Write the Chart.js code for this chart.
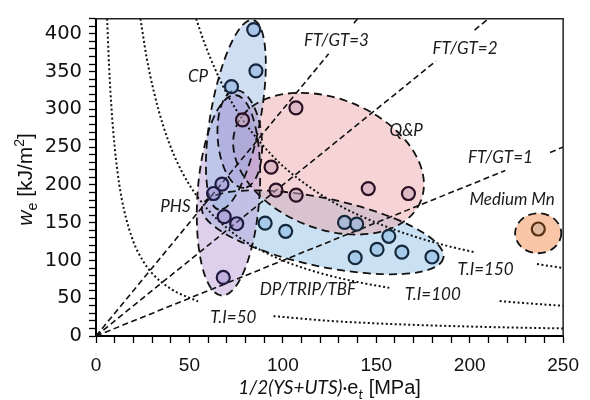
<!DOCTYPE html>
<html>
<head>
<meta charset="utf-8">
<script src="https://cdn.jsdelivr.net/npm/chart.js@4.4.0/dist/chart.umd.min.js"></script>
<style>
  html, body { margin: 0; padding: 0; background: #fff; }
  #wrap { width: 590px; height: 400px; }
</style>
</head>
<body>
<div id="wrap"><canvas id="chart" width="590" height="400"></canvas></div>
<script>
// steel grades, x = 1/2(YS+UTS)*et [MPa], y = we [kJ/m2]
const cpX = [84.4, 85.6, 72.5];
const cpY = [405.6, 351, 330];
const qpX = [78.4, 107, 93.7, 96.3, 107.1, 145.7, 167.2];
const qpY = [286, 302, 223.5, 193, 186.5, 195.2, 188.6];
const phsX = [67.4, 62.9, 68.6, 75.3, 68.1];
const phsY = [201, 188.6, 158, 148.6, 77.5];
const dpX = [90.5, 101.5, 133, 139.5, 156.7, 150.4, 163.7, 138.7, 179.8];
const dpY = [149.4, 138.6, 150.3, 148.1, 132, 114.6, 111, 103.7, 104.6];
const mnX = [236.7];
const mnY = [141.6];

// FT/GT reference lines (null = gap for the label)
const ft3X = [0, 124.5, null, 138, 140];
const ft3Y = [0, 373.5, null, 414, 420];
const ft2X = [0, 182, null, 202.6, 210];
const ft2Y = [0, 364, null, 405, 420];
const ft1X = [0, 219, null, 243, 250];
const ft1Y = [0, 219, null, 243, 250];

// T.I iso-lines
const ti50X = [5.95, 7, 8.5, 10, 12.5, 15, 20, 25, 30, 40, 54.6, null, 95, 125, 150, 175, 200, 225, 250];
const ti50Y = [420, 357, 294, 250, 200, 167, 125, 100, 83, 62.5, 45.8, null, 26.3, 20, 16.7, 14.3, 12.5, 11.1, 10];
const ti100X = [23.8, 27, 31, 36, 42, 50, 60, 70, 80, 100, 120, 140, 157, null, 216, 233, 250];
const ti100Y = [420, 370, 323, 278, 238, 200, 167, 143, 125, 100, 83.3, 71.4, 63.7, null, 46.3, 42.9, 40];
const ti150X = [53.6, 58, 64, 70, 78, 88, 100, 115, 130, 150, 170, 190, 202.6, null, 236, 243, 250];
const ti150Y = [420, 388, 352, 321, 288, 256, 225, 196, 173, 150, 132, 118, 111, null, 95.3, 92.6, 90];

const xTicks = [0, 50, 100, 150, 200, 250];
const yTicks = [0, 50, 100, 150, 200, 250, 300, 350, 400];

// group outlines: ends of the long axis (data units) + half width (px)
const regions = [
  { p1: [56.7, 171.2], p2: [185.9, 103.3], half: 34, fill: 'rgba(150,195,232,0.5)' },  // DP/TRIP/TBF
  { p1: [75.1, 277.6], p2: [173.8, 178.6], half: 65, fill: 'rgba(236,160,165,0.45)' }, // Q&P
  { p1: [74.6, 319], p2: [67.2, 53.6], half: 31, fill: 'rgba(190,160,215,0.5)' },      // PHS
  { p1: [84.0, 418.3], p2: [65.7, 167.3], half: 25, fill: 'rgba(160,190,232,0.5)' },   // CP
  { p1: [74.6, 325.5], p2: [79.3, 196], half: 22, fill: 'rgba(140,120,200,0.25)' },    // inner
  { p1: [224.3, 136], p2: [249, 136], half: 20, fill: 'rgba(245,160,110,0.6)' }        // Medium Mn
];

const notes = [
  { t: 'CP', x: 54.6, y: 344 },
  { t: 'FT/GT=3', x: 128.7, y: 391 },
  { t: 'FT/GT=2', x: 197.5, y: 380 },
  { t: 'Q&P', x: 166, y: 271.9 },
  { t: 'FT/GT=1', x: 216.4, y: 236.6 },
  { t: 'Medium Mn', x: 222.7, y: 180.4 },
  { t: 'PHS', x: 42.5, y: 171 },
  { t: 'DP/TRIP/TBF', x: 113.4, y: 61 },
  { t: 'T.I=150', x: 208.5, y: 87.6 },
  { t: 'T.I=100', x: 180.2, y: 55 },
  { t: 'T.I=50', x: 73.5, y: 25 }
];

function pts(xs, ys) {
  return xs.map((x, i) => ({ x: x, y: ys[i] }));
}

function dots(xs, ys, fill, edge) {
  return {
    type: 'scatter', data: pts(xs, ys), order: 0,
    pointRadius: 6.5, pointHoverRadius: 6.5, pointBorderWidth: 2.2,
    pointBackgroundColor: fill, pointBorderColor: edge
  };
}

function guide(xs, ys, dash, width) {
  return {
    type: 'line', data: pts(xs, ys), order: 1,
    borderColor: '#111', borderWidth: width, borderDash: dash,
    pointRadius: 0, fill: false, spanGaps: false,
    cubicInterpolationMode: 'monotone'
  };
}

const regionPlugin = {
  id: 'regions',
  beforeDatasetsDraw(chart) {
    const ctx = chart.ctx, xs = chart.scales.x, ys = chart.scales.y;
    const shapes = regions.map(r => {
      const x1 = xs.getPixelForValue(r.p1[0]), y1 = ys.getPixelForValue(r.p1[1]);
      const x2 = xs.getPixelForValue(r.p2[0]), y2 = ys.getPixelForValue(r.p2[1]);
      return {
        cx: (x1 + x2) / 2, cy: (y1 + y2) / 2,
        a: Math.hypot(x2 - x1, y2 - y1) / 2,
        rot: Math.atan2(y2 - y1, x2 - x1), b: r.half, fill: r.fill
      };
    });
    ctx.save();
    shapes.forEach(s => {
      ctx.beginPath();
      ctx.ellipse(s.cx, s.cy, s.a, s.b, s.rot, 0, Math.PI * 2);
      ctx.fillStyle = s.fill;
      ctx.fill();
    });
    ctx.setLineDash([8, 5]);
    ctx.lineWidth = 1.8;
    ctx.strokeStyle = '#111';
    shapes.forEach(s => {
      ctx.beginPath();
      ctx.ellipse(s.cx, s.cy, s.a, s.b, s.rot, 0, Math.PI * 2);
      ctx.stroke();
    });
    ctx.restore();
  },
  afterDatasetsDraw(chart) {
    const ctx = chart.ctx, xs = chart.scales.x, ys = chart.scales.y;
    ctx.save();
    ctx.font = 'italic 17px Lato';
    ctx.fillStyle = '#1a1a1a';
    ctx.textAlign = 'center';
    ctx.textBaseline = 'middle';
    notes.forEach(n => ctx.fillText(n.t, xs.getPixelForValue(n.x), ys.getPixelForValue(n.y)));
    ctx.restore();
  }
};

// frame on top/right and the two axis titles
const framePlugin = {
  id: 'frame',
  afterDraw(chart) {
    const ctx = chart.ctx, a = chart.chartArea;
    ctx.save();
    ctx.strokeStyle = '#222';
    ctx.lineWidth = 1.5;
    ctx.beginPath();
    ctx.moveTo(a.left, a.top);
    ctx.lineTo(a.right, a.top);
    ctx.lineTo(a.right, a.bottom);
    ctx.stroke();

    ctx.fillStyle = '#111';
    ctx.textBaseline = 'alphabetic';
    // x title
    const xp = [
      { t: '1/2(YS+UTS)·', f: 'italic 19px Lato', dy: 0 },
      { t: 'e', f: '20px "Liberation Sans"', dy: 0 },
      { t: 't', f: 'italic 13px Lato', dy: 5 },
      { t: ' [MPa]', f: '20px "Liberation Sans"', dy: 0 }
    ];
    drawRich(ctx, xp, (a.left + a.right) / 2, 394);
    // y title
    ctx.translate(32, (a.top + a.bottom) / 2 + 2);
    ctx.rotate(-Math.PI / 2);
    const yp = [
      { t: 'w', f: 'italic 21px "Liberation Sans"', dy: 0 },
      { t: 'e', f: '14px "Liberation Sans"', dy: 5 },
      { t: ' [kJ/m', f: '21px "Liberation Sans"', dy: 0 },
      { t: '2', f: '14px "Liberation Sans"', dy: -8 },
      { t: ']', f: '21px "Liberation Sans"', dy: 0 }
    ];
    drawRich(ctx, yp, 0, 0);
    ctx.restore();
  }
};

function drawRich(ctx, parts, cx, y) {
  let w = 0;
  parts.forEach(p => { ctx.font = p.f; p.w = ctx.measureText(p.t).width; w += p.w; });
  let x = cx - w / 2;
  ctx.textAlign = 'left';
  parts.forEach(p => { ctx.font = p.f; ctx.fillText(p.t, x, y + p.dy); x += p.w; });
}

new Chart(document.getElementById('chart'), {
  type: 'scatter',
  data: {
    datasets: [
      dots(cpX, cpY, 'rgba(120,165,220,0.45)', '#17263f'),
      dots(qpX, qpY, 'rgba(200,165,185,0.55)', '#2a1024'),
      dots(phsX, phsY, 'rgba(150,130,205,0.4)', '#1e1a40'),
      dots(dpX, dpY, 'rgba(120,175,225,0.45)', '#16283c'),
      dots(mnX, mnY, 'rgba(222,185,160,0.95)', '#5a3012'),
      guide(ft3X, ft3Y, [6, 3.5], 1.6),
      guide(ft2X, ft2Y, [6, 3.5], 1.6),
      guide(ft1X, ft1Y, [6, 3.5], 1.6),
      guide(ti50X, ti50Y, [2, 2.5], 2),
      guide(ti100X, ti100Y, [2, 2.5], 2),
      guide(ti150X, ti150Y, [2, 2.5], 2)
    ]
  },
  options: {
    responsive: false,
    animation: false,
    devicePixelRatio: 1,
    layout: { padding: { top: 14, right: 18, left: 0, bottom: 0 } },
    plugins: { legend: { display: false }, tooltip: { enabled: false } },
    scales: {
      x: {
        type: 'linear', min: 0, max: 250,
        afterFit: s => { s.height = 64; },
        border: { color: '#000', width: 2 },
        grid: { drawOnChartArea: false, tickLength: 7, tickColor: '#000', tickWidth: 1.3 },
        ticks: {
          stepSize: 10, autoSkip: false, maxRotation: 0, padding: 11,
          color: '#111', font: { family: '"Liberation Sans"', size: 19 },
          callback: v => xTicks.includes(v) ? v : ''
        }
      },
      y: {
        type: 'linear', min: 0, max: 420,
        afterFit: s => { s.width = 96; },
        border: { color: '#000', width: 2 },
        grid: { drawOnChartArea: false, tickLength: 7, tickColor: '#000', tickWidth: 1.3 },
        ticks: {
          stepSize: 10, autoSkip: false, padding: 7,
          color: '#111', font: { family: '"DejaVu Sans"', size: 19.5 },
          callback: v => yTicks.includes(v) ? v : ''
        }
      }
    }
  },
  plugins: [regionPlugin, framePlugin]
});
</script>
</body>
</html>
